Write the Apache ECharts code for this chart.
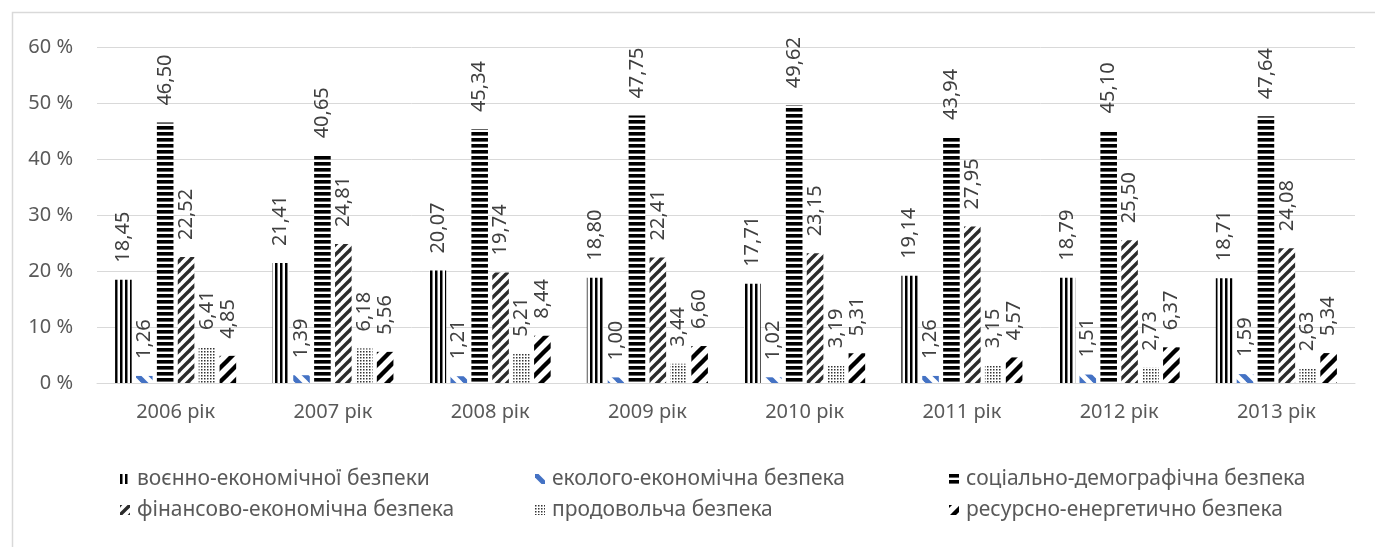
<!DOCTYPE html>
<html>
<head>
<meta charset="utf-8">
<script src="https://cdn.jsdelivr.net/npm/echarts@6/dist/echarts.min.js"></script>
<style>
html,body{margin:0;padding:0;background:#fff;}
#chart{width:1375px;height:547px;}
</style>
</head>
<body>
<div id="chart"></div>
<script>
const categories = ['2006 рік','2007 рік','2008 рік','2009 рік','2010 рік','2011 рік','2012 рік','2013 рік'];
const seriesNames = ['воєнно-економічної безпеки','еколого-економічна безпека','соціально-демографічна безпека','фінансово-економічна безпека','продовольча безпека','ресурсно-енергетично безпека'];
const military = [18.45, 21.41, 20.07, 18.80, 17.71, 19.14, 18.79, 18.71];
const ecology  = [1.26, 1.39, 1.21, 1.00, 1.02, 1.26, 1.51, 1.59];
const social   = [46.50, 40.65, 45.34, 47.75, 49.62, 43.94, 45.10, 47.64];
const finance  = [22.52, 24.81, 19.74, 22.41, 23.15, 27.95, 25.50, 24.08];
const food     = [6.41, 6.18, 5.21, 3.44, 3.19, 3.15, 2.73, 2.63];
const resource = [4.85, 5.56, 8.44, 6.60, 5.31, 4.57, 6.37, 5.34];
const yTicks = [0, 10, 20, 30, 40, 50, 60];

function makePattern(w, h, draw) {
  const c = document.createElement('canvas');
  c.width = w; c.height = h;
  const ctx = c.getContext('2d');
  ctx.fillStyle = '#fff';
  ctx.fillRect(0, 0, w, h);
  draw(ctx, w, h);
  return { image: c, repeat: 'repeat' };
}
function diag(ctx, w, h, color, lw, dir) {
  ctx.strokeStyle = color; ctx.lineWidth = lw; ctx.lineCap = 'square';
  for (let k = -1; k <= 1; k++) {
    ctx.beginPath();
    if (dir === '/') { ctx.moveTo(k * w, h); ctx.lineTo(k * w + w, 0); }
    else { ctx.moveTo(k * w, 0); ctx.lineTo(k * w + w, h); }
    ctx.stroke();
  }
}
const patterns = [
  makePattern(5, 5, (ctx) => { ctx.fillStyle = '#000'; ctx.fillRect(0, 0, 2.5, 5); }),
  makePattern(14, 14, (ctx, w, h) => diag(ctx, w, h, '#4472C4', 5, '\\')),
  makePattern(6, 6, (ctx) => { ctx.fillStyle = '#000'; ctx.fillRect(0, 0, 6, 3.6); }),
  makePattern(10, 10, (ctx, w, h) => diag(ctx, w, h, '#2b2b2b', 3.4, '/')),
  makePattern(3, 3, (ctx) => { ctx.fillStyle = '#333'; ctx.fillRect(0, 0, 1.5, 1.5); }),
  makePattern(14, 14, (ctx, w, h) => diag(ctx, w, h, '#000', 4.4, '/'))
];
const dataArr = [military, ecology, social, finance, food, resource];

const FONT = 'Noto Sans';
const series = dataArr.map((d, i) => ({
  name: seriesNames[i],
  type: 'bar',
  data: d,
  barGap: '26%',
  barCategoryGap: '23%',
  itemStyle: { color: patterns[i] },
  label: {
    show: true,
    position: 'top',
    rotate: 90,
    align: 'left',
    verticalAlign: 'middle',
    distance: 17,
    color: '#404040',
    fontSize: 20,
    fontFamily: FONT,
    formatter: (p) => p.value.toFixed(2).replace('.', ',')
  }
}));

const legendPos = [[120, 467], [535, 467], [949, 467], [120, 498], [535, 498], [949, 498]];
const legends = seriesNames.map((n, i) => ({
  data: [n],
  left: legendPos[i][0],
  top: legendPos[i][1],
  padding: 0,
  itemWidth: 10,
  itemHeight: 10,
  itemGap: 6,
  icon: 'rect',
  selectedMode: false,
  textStyle: { color: '#595959', fontSize: 21, lineHeight: 24, fontFamily: FONT, padding: [0, 0, 0, 2] }
}));

const chart = echarts.init(document.getElementById('chart'));
chart.setOption({
  animation: false,
  backgroundColor: '#fff',
  textStyle: { fontFamily: FONT },
  grid: { left: 97, right: 20, top: 47, bottom: 164 },
  legend: legends,
  graphic: [{
    type: 'rect', left: 10, top: 10,
    shape: { width: 1400, height: 600 },
    style: { fill: 'none', stroke: '#d9d9d9', lineWidth: 1.5 },
    silent: true
  }],
  xAxis: {
    type: 'category',
    data: categories,
    axisTick: { show: false },
    axisLine: { lineStyle: { color: '#d9d9d9', width: 1 } },
    axisLabel: { color: '#595959', fontSize: 20, fontFamily: FONT, margin: 19 }
  },
  yAxis: {
    type: 'value',
    min: yTicks[0],
    max: yTicks[yTicks.length - 1],
    interval: 10,
    axisLine: { show: false },
    axisTick: { show: false },
    splitLine: { lineStyle: { color: '#d9d9d9', width: 1 } },
    axisLabel: { color: '#595959', fontSize: 20, fontFamily: FONT, margin: 24, formatter: '{value} %' }
  },
  series: series
});
</script>
</body>
</html>
